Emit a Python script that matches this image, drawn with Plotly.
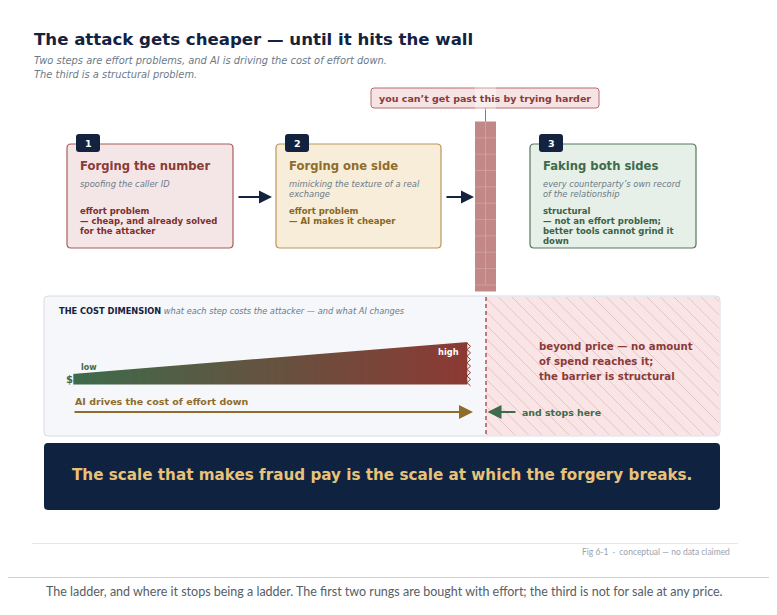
import plotly.graph_objects as go
import numpy as np

# ---------------- content ----------------
title_text = "The attack gets cheaper — until it hits the wall"
subtitle_lines = ["Two steps are effort problems, and AI is driving the cost of effort down.",
                  "The third is a structural problem."]
wall_label = "you can’t get past this by trying harder"

step_numbers = ["1", "2", "3"]
step_titles = ["Forging the number", "Forging one side", "Faking both sides"]
step_subtitles = [["spoofing the caller ID"],
                  ["mimicking the texture of a real", "exchange"],
                  ["every counterparty’s own record", "of the relationship"]]
step_notes = [["effort problem", "— cheap, and already solved", "for the attacker"],
              ["effort problem", "— AI makes it cheaper"],
              ["structural", "— not an effort problem;", "better tools cannot grind it", "down"]]
step_fill = ["#f4e6e6", "#f7edd8", "#e6f0e8"]
step_border = ["#a85c5c", "#b8985c", "#52785d"]
step_title_color = ["#8b3a3a", "#8f6c2b", "#3f6b4a"]
step_note_color = ["#7d2e2e", "#8a6626", "#3b6246"]

cost_labels = ["low", "high"]
cost_ramp = [0.24, 1.0]          # relative cost of effort, left -> right
cost_header = "THE COST DIMENSION"
cost_header_sub = "what each step costs the attacker — and what AI changes"
ai_label = "AI drives the cost of effort down"
stop_label = "and stops here"
beyond_lines = ["beyond price — no amount", "of spend reaches it;", "the barrier is structural"]
banner_text = "The scale that makes fraud pay is the scale at which the forgery breaks."
fig_note = "Fig 6-1  ·  conceptual — no data claimed"
caption = ("The ladder, and where it stops being a ladder. The first two rungs are bought with effort; "
           "the third is not for sale at any price.")

NAVY = "#13223f"
GRAY = "#6b7a8a"
FONT = "DejaVu Sans"

shapes = []
ann = []


def rrect(x0, y0, x1, y1, r):
    return (f"M {x0+r},{y0} L {x1-r},{y0} Q {x1},{y0} {x1},{y0+r} L {x1},{y1-r} "
            f"Q {x1},{y1} {x1-r},{y1} L {x0+r},{y1} Q {x0},{y1} {x0},{y1-r} "
            f"L {x0},{y0+r} Q {x0},{y0} {x0+r},{y0} Z")


def add_rrect(x0, y0, x1, y1, r, fill, line=None, lw=1, layer="below", opacity=1):
    shapes.append(dict(type="path", path=rrect(x0, y0, x1, y1, r), xref="x", yref="y",
                       fillcolor=fill, line=dict(color=line or fill, width=lw if line else 0),
                       layer=layer, opacity=opacity))


def text(x, y, s, size, color, weight="normal", style="normal", xa="left", family=FONT):
    ann.append(dict(x=x, y=y, xref="x", yref="y", text=s, showarrow=False, xanchor=xa,
                    yanchor="middle", font=dict(family=family, size=size, color=color,
                                                weight=weight, style=style)))


def arrow(x0, x1, y, color, width=2, size=1.2):
    ann.append(dict(x=x1, y=y, ax=x0, ay=y, xref="x", yref="y", axref="x", ayref="y",
                    text="", showarrow=True, arrowhead=2, arrowsize=size, arrowwidth=width,
                    arrowcolor=color, standoff=0, startstandoff=0))


# ---------------- header ----------------
text(32, 39, title_text, 16.6, NAVY, weight="bold")
for i, s in enumerate(subtitle_lines):
    text(32, 60 + 14 * i, s, 9.9, GRAY, style="italic")

# ---------------- step boxes ----------------
box_x = [(67, 233), (276, 441), (530, 696)]
for i in range(3):
    x0, x1 = box_x[i]
    add_rrect(x0, 144, x1, 248, 4, step_fill[i], step_border[i], 1.2)
    add_rrect(x0 + 9, 134, x0 + 33, 152, 3, NAVY)
    text(x0 + 21, 143.5, step_numbers[i], 9.5, "white", weight="bold", xa="center")
    text(x0 + 11, 166, step_titles[i], 11.6, step_title_color[i], weight="bold")
    for j, s in enumerate(step_subtitles[i]):
        text(x0 + 11, 183.5 + 10.8 * j, s, 8.4, GRAY, style="italic")
    for j, s in enumerate(step_notes[i]):
        text(x0 + 11, 210.5 + 10.3 * j, s, 8.5, step_note_color[i], weight="bold")

arrow(237, 272, 197, NAVY, 2, 1.3)
arrow(445, 474, 197, NAVY, 2, 1.3)

# ---------------- wall ----------------
shapes.append(dict(type="rect", x0=475, x1=496, y0=121.5, y1=291.5, xref="x", yref="y",
                   fillcolor="#c28888", line=dict(width=0), layer="below"))
row_h = 170 / 10.4
k = 1
while 121.5 + k * row_h < 291:
    yy = 121.5 + k * row_h
    shapes.append(dict(type="line", x0=475, x1=496, y0=yy, y1=yy, xref="x", yref="y",
                       line=dict(color="#d3a3a3", width=0.8), layer="below"))
    k += 1
for k in range(10):
    ya = 121.5 + k * row_h
    xj = 485.5
    shapes.append(dict(type="line", x0=xj, x1=xj, y0=ya, y1=ya + row_h, xref="x", yref="y",
                       line=dict(color="#d3a3a3", width=0.8), layer="below"))

# label above the wall
shapes.append(dict(type="line", x0=485.5, x1=485.5, y0=108, y1=121.5, xref="x", yref="y",
                   line=dict(color="#b06a6a", width=1), layer="below"))
add_rrect(371, 88, 599, 108, 3, "#f6e3e3", "#b86c6c", 1)
add_rrect(475, 86, 496, 110, 0, "white", layer="above", opacity=0.35)
text(485, 98.5, wall_label, 9.5, "#8b3a3a", weight="bold", xa="center")

# ---------------- cost panel ----------------
add_rrect(44, 296, 720, 436, 4, "#f5f7fa", "#d7dde5", 1)
shapes.append(dict(type="path",
                   path="M 486,297 L 715,297 Q 719,297 719,301 L 719,431 Q 719,435 715,435 L 486,435 Z",
                   xref="x", yref="y", fillcolor="#f9e5e5", line=dict(width=0), layer="below"))
for c in np.arange(435 - 486 - 2, 297 - 719, -13.5):
    pts = []
    for xx in (486, 719):
        yy = xx + c
        if 297 <= yy <= 435:
            pts.append((xx, yy))
    for yy in (297, 435):
        xx = yy - c
        if 486 <= xx <= 719:
            pts.append((xx, yy))
    pts = sorted(set(pts))
    if len(pts) >= 2:
        (ax0, ay0), (ax1, ay1) = pts[0], pts[-1]
        shapes.append(dict(type="line", x0=ax0, y0=ay0, x1=ax1, y1=ay1, xref="x", yref="y",
                           line=dict(color="#e4bebe", width=0.9), layer="below"))

shapes.append(dict(type="line", x0=486, x1=486, y0=297, y1=435, xref="x", yref="y",
                   line=dict(color="#9a4040", width=1.3, dash="4px,3px"), layer="above"))

text(57, 311, f"<b>{cost_header}</b> <span style='color:{GRAY}'><i>{cost_header_sub}</i></span>",
     8.25, NAVY)

# cost ramp (gradient wedge)
rx0, rx1, base = 73.3, 467.0, 384.0
full_h = 42.0
tops = [base - full_h * v for v in cost_ramp]
ncol = 220
edges = np.linspace(rx0, rx1, ncol + 1)
heat = go.Heatmap(x=edges, y=[min(tops) - 0.5, base], z=[list(range(ncol))],
                  colorscale=[[0, "#3e6b4b"], [1, "#8c3934"]], showscale=False,
                  hoverinfo="skip", zsmooth=False)
shapes.append(dict(type="path",
                   path=f"M {rx0-1},{min(tops)-1} L {rx1+1},{min(tops)-1} L {rx1+1},{tops[1]} L {rx0-1},{tops[0]} Z",
                   xref="x", yref="y", fillcolor="#f5f7fa", line=dict(width=0), layer="above"))
zz = "M 467,343"
yy = 343
flip = True
while yy < 383:
    yy += 3.3
    zz += f" L {470.5 if flip else 467},{yy}"
    flip = not flip
shapes.append(dict(type="path", path=zz, xref="x", yref="y", line=dict(color="#8c3934", width=1),
                   layer="above"))

text(79, 367, cost_labels[0], 8, "#3e6b4b", weight="bold")
text(461, 351.5, cost_labels[1], 8.3, "white", weight="bold", xa="right")
text(69, 379, "$", 10, "#3e6b4b", weight="bold", xa="center")

text(73, 401, ai_label, 9.5, "#8f6c2b", weight="bold")
arrow(73, 473, 412, "#8f6c2b", 2, 1.4)
arrow(517, 487.5, 412, "#3e6b4b", 2, 1.4)
text(520, 412.5, stop_label, 9.4, "#3e6b4b", weight="bold")
for j, s in enumerate(beyond_lines):
    text(537, 346 + 15 * j, s, 10.2, "#8b3a3a", weight="bold")

# ---------------- banner ----------------
add_rrect(44, 443, 720, 510, 4, "#0f2240")
text(382, 475, banner_text, 15.2, "#e8c27a", weight="bold", xa="center")

# ---------------- footer ----------------
shapes.append(dict(type="line", x0=32, x1=738, y0=543.5, y1=543.5, xref="x", yref="y",
                   line=dict(color="#e3e6ea", width=1), layer="below"))
text(732, 551.5, fig_note, 8.5, "#9aa3ad", xa="right", family="Lato")
shapes.append(dict(type="line", x0=0, x1=777, y0=577.5, y1=577.5, xref="x", yref="y",
                   line=dict(color="#cfd3d8", width=1), layer="below"))
text(384, 591, caption, 12.5, "#555e68", xa="center", family="Lato")

# The page body has an 8px margin: draw only the region from (8,8) so pixels line up.
OFF = 8
fig = go.Figure(data=[heat])
fig.update_layout(
    width=777 - OFF, height=607 - OFF, margin=dict(l=0, r=0, t=0, b=0),
    paper_bgcolor="white", plot_bgcolor="white",
    xaxis=dict(range=[OFF, 777], visible=False, fixedrange=True),
    yaxis=dict(range=[607, OFF], visible=False, fixedrange=True),
    shapes=shapes, annotations=ann, showlegend=False, hovermode=False,
)
fig.write_html("out.html", config={"displayModeBar": False, "staticPlot": True})
